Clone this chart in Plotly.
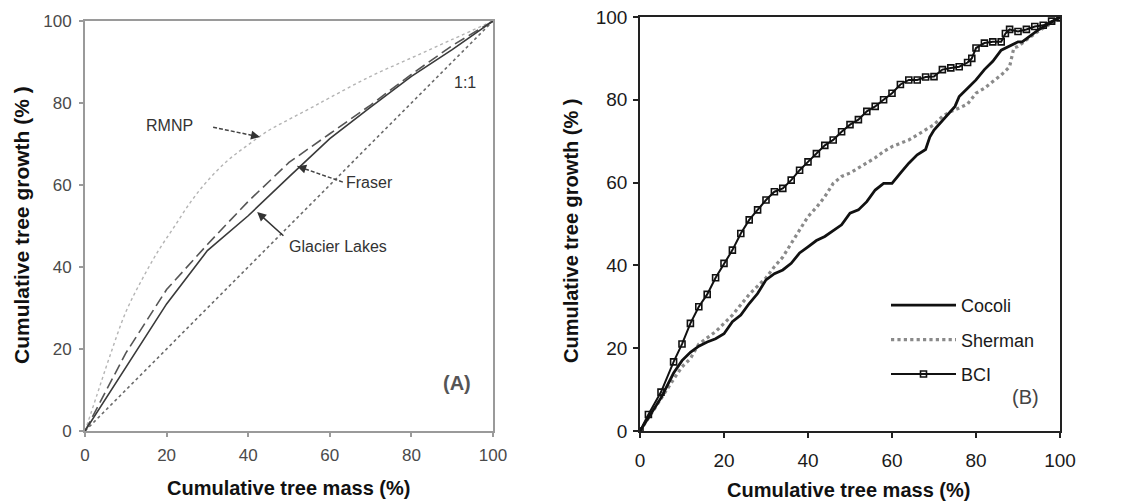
import plotly.graph_objects as go

# ---------------- Panel A: cumulative growth vs mass, three sites ----------------
one_x = [0, 100]
one_y = [0, 100]

glacier_x = [0, 10, 20, 30, 40, 50, 60, 70, 80, 90, 100]
glacier_y = [0, 15.5, 31, 44, 52.5, 62, 71.3, 79, 86.5, 93, 100]

fraser_x = [0, 10, 20, 30, 40, 50, 60, 70, 80, 90, 100]
fraser_y = [0, 19, 34.5, 45.5, 56, 65.5, 72.5, 79.5, 87, 94, 100]

rmnp_x = [0, 3, 6, 10, 14, 18, 22, 26, 30, 35, 40, 45, 50, 55, 60, 70, 80, 90, 100]
rmnp_y = [0, 9, 18, 29, 37, 44, 50, 56, 61, 66, 69.8, 73.3, 76, 78.6, 81.3, 86.5, 91, 95.5, 100]

# ---------------- Panel B: three Panamanian plots ----------------
bci_x = [0, 2, 5, 8, 10, 12, 14, 16, 18, 20, 22, 24, 26, 28, 30, 32, 34, 36, 38, 40,
         42, 44, 46, 48, 50, 52, 54, 56, 58, 60, 62, 64, 66, 68, 70, 72, 74, 76, 78, 79,
         80, 82, 84, 86, 87, 88, 90, 92, 94, 96, 98, 100]
bci_y = [0, 4, 9.4, 16.7, 21, 26, 30, 33, 37, 40.5, 43.7, 47.7, 51, 53.4, 55.8, 57.8, 58.6,
         60.6, 63, 65, 67, 69, 70.3, 72.3, 74, 75.2, 77.2, 78.4, 80, 81.6, 83.7, 84.8, 84.8,
         85.5, 85.6, 87.3, 87.7, 88, 89, 90, 92.5, 93.7, 94, 94, 96, 97, 96.5, 97, 97.7, 98,
         99, 99.8]

cocoli_x = [0, 5, 8, 10, 12, 14, 16, 18, 20, 22, 24, 26, 28, 30, 32, 34, 36, 38, 40, 42,
            44, 46, 48, 50, 52, 54, 56, 58, 60, 62, 64, 66, 68, 69, 70, 75, 76, 78, 80, 82,
            84, 86, 88, 90, 91, 95, 100]
cocoli_y = [0, 8, 14, 17, 19, 20.5, 21.5, 22.3, 23.5, 26.4, 28, 30.8, 33.2, 36.5, 38, 38.9,
            40.5, 43, 44.5, 46, 47, 48.5, 49.8, 52.6, 53.4, 55.4, 58.2, 59.8, 59.8, 62.3,
            64.7, 66.7, 68, 71, 72.7, 78.4, 80.8, 82.8, 84.8, 87.3, 89.3, 92, 93, 94, 94,
            97, 100]

sherman_x = [0, 5, 8, 10, 12, 14, 16, 18, 20, 22, 24, 26, 28, 30, 32, 34, 36, 38, 40, 42,
             44, 46, 48, 50, 52, 54, 56, 58, 60, 62, 64, 66, 68, 70, 72, 74, 76, 78, 80, 82,
             84, 86, 88, 89, 90, 92, 94, 96, 98, 100]
sherman_y = [0, 8, 12.5, 15.5, 17.5, 21, 22.5, 24, 26, 28, 30.5, 33, 35, 37, 39.7, 42, 45.3,
             48.5, 51.8, 54, 56.6, 59.8, 61.5, 62.3, 63.5, 64.7, 66, 67.5, 68.7, 69.5, 70.3,
             71.5, 72.7, 74, 76, 77.2, 78, 79, 81.6, 82.8, 84.4, 86, 88, 92.5, 92.9, 94.5,
             96, 97.3, 98.5, 100]

ticks = [0, 20, 40, 60, 80, 100]
FONT = "Liberation Sans, Arial, sans-serif"

fig = go.Figure()

# Panel A traces
fig.add_trace(go.Scatter(x=one_x, y=one_y, mode="lines", xaxis="x", yaxis="y",
                         line=dict(color="#6a6a6a", width=1.6, dash="dot"), showlegend=False))
fig.add_trace(go.Scatter(x=rmnp_x, y=rmnp_y, mode="lines", xaxis="x", yaxis="y",
                         line=dict(color="#b4b4b4", width=1.4, dash="dot", shape="spline"),
                         showlegend=False))
fig.add_trace(go.Scatter(x=fraser_x, y=fraser_y, mode="lines", xaxis="x", yaxis="y",
                         line=dict(color="#555555", width=1.6, dash="11px,5px"),
                         showlegend=False))
fig.add_trace(go.Scatter(x=glacier_x, y=glacier_y, mode="lines", xaxis="x", yaxis="y",
                         line=dict(color="#3a3a3a", width=1.6), showlegend=False))

# Panel B traces
fig.add_trace(go.Scatter(x=sherman_x, y=sherman_y, mode="lines", xaxis="x2", yaxis="y2",
                         name="Sherman", legendgroup="b", legendrank=2,
                         line=dict(color="#8a8a8a", width=3.2, dash="dot")))
fig.add_trace(go.Scatter(x=cocoli_x, y=cocoli_y, mode="lines", xaxis="x2", yaxis="y2",
                         name="Cocoli", legendgroup="a", legendrank=1,
                         line=dict(color="#111111", width=2.8)))
fig.add_trace(go.Scatter(x=bci_x, y=bci_y, mode="lines+markers", xaxis="x2", yaxis="y2",
                         name="BCI", legendgroup="c", legendrank=3,
                         line=dict(color="#111111", width=2),
                         marker=dict(symbol="square-open", size=6, color="#111111",
                                     line=dict(width=1.6, color="#111111"))))

axA = dict(range=[0, 100], tickvals=ticks, showgrid=False, zeroline=False,
           showline=True, mirror=True, linecolor="#9a9a9a", linewidth=2,
           ticks="outside", ticklen=4, tickcolor="#9a9a9a", tickwidth=1.5,
           tickfont=dict(family=FONT, size=17, color="#4a4a4a"))
axB = dict(range=[0, 100], tickvals=ticks, showgrid=False, zeroline=False,
           showline=True, mirror=True, linecolor="#222222", linewidth=1.5,
           ticks="outside", ticklen=5, tickcolor="#222222", tickwidth=1.5,
           tickfont=dict(family=FONT, size=19, color="#1a1a1a"))

W, H = 1125, 504


def px(xp):
    return xp / W


def py(yp):
    return 1 - yp / H


fig.update_layout(
    width=W, height=H,
    margin=dict(l=0, r=0, t=0, b=0, autoexpand=False),
    paper_bgcolor="white", plot_bgcolor="white",
    font=dict(family=FONT),
    xaxis=dict(domain=[px(85), px(493)], anchor="y", ticklabelstandoff=4, **axA),
    yaxis=dict(domain=[py(431), py(21)], anchor="x", ticklabelstandoff=4, **axA),
    xaxis2=dict(domain=[px(640), px(1060)], anchor="y2", ticklabelstandoff=6, **axB),
    yaxis2=dict(domain=[py(431), py(17)], anchor="x2", ticklabelstandoff=2, **axB),
    legend=dict(x=px(886), y=py(287), xanchor="left", yanchor="top",
                bgcolor="rgba(0,0,0,0)", itemwidth=65, tracegroupgap=8,
                font=dict(family=FONT, size=18, color="#1a1a1a")),
)

annotations = []
shapes = []

# axis titles
title_font = dict(family=FONT, size=20, color="#111111")
annotations += [
    dict(text="<b>Cumulative tree mass (%)</b>", xref="paper", yref="paper",
         x=px(288), y=py(488), xanchor="center", yanchor="middle",
         showarrow=False, font=title_font),
    dict(text="<b>Cumulative tree mass (%)</b>", xref="paper", yref="paper",
         x=px(848), y=py(490), xanchor="center", yanchor="middle",
         showarrow=False, font=title_font),
    dict(text="<b>Cumulative tree growth (% )</b>", xref="paper", yref="paper",
         x=px(22), y=py(225), xanchor="center", yanchor="middle",
         showarrow=False, textangle=-90,
         font=dict(family=FONT, size=21, color="#111111")),
    dict(text="<b>Cumulative tree growth (% )</b>", xref="paper", yref="paper",
         x=px(571), y=py(231), xanchor="center", yanchor="middle",
         showarrow=False, textangle=-90, font=title_font),
]

# Panel A labels with their arrows
label_font = dict(family=FONT, size=16, color="#333333")
annotations += [
    dict(text="RMNP", x=20.8, y=74.4, xref="x", yref="y", showarrow=False, font=label_font),
    dict(text="Fraser", x=69.8, y=60.7, xref="x", yref="y", showarrow=False, font=label_font),
    dict(text="Glacier Lakes", x=62, y=44.9, xref="x", yref="y", showarrow=False,
         font=label_font),
    dict(text="1:1", x=93.1, y=85.1, xref="x", yref="y", showarrow=False, font=label_font),
    dict(text="<b>(A)</b>", x=91.2, y=11.7, xref="x", yref="y", showarrow=False,
         font=dict(family=FONT, size=20, color="#555555")),
    dict(text="(B)", x=91.7, y=8.2, xref="x2", yref="y2", showarrow=False,
         font=dict(family=FONT, size=20, color="#444444")),
]

# arrows: (tail_x, tail_y, head_x, head_y, dash)
arrows = [
    (31.4, 74.1, 42.9, 71.7, "dash"),
    (63.2, 60.7, 52.0, 64.6, "dash"),
    (49.0, 47.3, 42.2, 53.4, "solid"),
]
for tx, ty, hx, hy, dash in arrows:
    if dash == "solid":
        annotations.append(dict(x=hx, y=hy, ax=tx, ay=ty, xref="x", yref="y",
                                axref="x", ayref="y", text="", showarrow=True,
                                arrowhead=2, arrowsize=1.2, arrowwidth=1.5,
                                arrowcolor="#333333"))
    else:
        shapes.append(dict(type="line", xref="x", yref="y", x0=tx, y0=ty, x1=hx, y1=hy,
                           line=dict(color="#444444", width=1.5, dash="4px,2px")))
        # short stub only to carry the arrow head
        sx = hx + (tx - hx) * 0.12
        sy = hy + (ty - hy) * 0.12
        annotations.append(dict(x=hx, y=hy, ax=sx, ay=sy, xref="x", yref="y",
                                axref="x", ayref="y", text="", showarrow=True,
                                arrowhead=2, arrowsize=1.2, arrowwidth=1.5,
                                arrowcolor="#333333"))

fig.update_layout(annotations=annotations, shapes=shapes)

fig.write_html("out.html")
